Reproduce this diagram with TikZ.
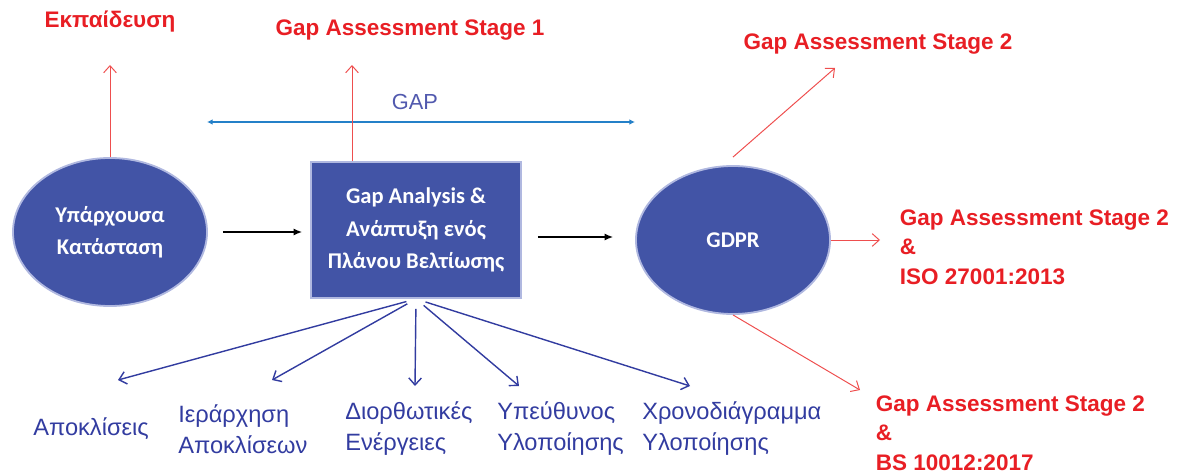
\documentclass[tikz,border=0pt]{standalone}
\usepackage{fontspec}
\setmainfont{Liberation Sans}
\newfontfamily\boxfont{Carlito}
\usetikzlibrary{arrows.meta,shapes.geometric,positioning,calc}
\definecolor{shapeblue}{RGB}{66,84,166}
\definecolor{rimcolor}{RGB}{176,184,224}
\definecolor{redtext}{RGB}{232,30,36}
\definecolor{redline}{RGB}{238,78,78}
\definecolor{labelblue}{RGB}{50,60,160}
\definecolor{gapblue}{RGB}{36,128,200}
\tikzstyle{shape node}=[fill=shapeblue, draw=rimcolor, line width=1.3pt, text=white, align=center, inner sep=0pt, font=\boxfont\bfseries\fontsize{16}{23}\selectfont]
\tikzstyle{state}=[shape node, ellipse, minimum width=4.85cm, minimum height=3.7cm]
\tikzstyle{plan}=[shape node, rectangle, minimum width=5.25cm, minimum height=3.4cm]
\tikzstyle{stage}=[text=redtext, align=left, font=\bfseries\fontsize{16}{21}\selectfont]
\tikzstyle{task}=[text=labelblue, align=left, anchor=west, inner sep=0pt, font=\fontsize{16.8}{22}\selectfont]
\tikzstyle{redarrow}=[-{Straight Barb[length=5pt,width=9pt]}, redline, line width=0.7pt]
\tikzstyle{fanarrow}=[-{Straight Barb[length=5pt,width=9pt]}, labelblue, line width=1pt]
\tikzstyle{flow}=[-{Latex[length=6pt,width=5pt]}, black, line width=1pt]

\begin{document}
\begin{tikzpicture}[x=0.025cm,y=-0.025cm]
\useasboundingbox (0,0) rectangle (1180,473);

    % main shapes
    \node[state] (current) at (110,232) {Υπάρχουσα\\Κατάσταση};
    \node[plan] (analysis) at (416,230) {Gap Analysis \&\\Ανάπτυξη ενός\\Πλάνου Βελτίωσης};
    \node[state] (gdpr) at (733,240) {GDPR};

    \draw[flow, shorten <=15pt*0.709, shorten >=8pt*0.709] (current.east) -- (analysis.west |- current.east);
    \draw[flow, shorten <=16pt*0.709, shorten >=22pt*0.709] (analysis.east |- 0,237) -- (gdpr.west |- 0,237);

    % gap line
    \coordinate (gapL) at (207,122);
    \coordinate (gapR) at (635,122);
    \draw[{Latex[length=4pt,width=4pt]}-{Latex[length=4pt,width=4pt]}, gapblue, line width=0.8pt] (gapL) -- (gapR);
    \node[text=labelblue!85!white, font=\fontsize{15.5}{18}\selectfont] (gap) at (415,102) {GAP};

    % stages
    \node[stage] (training) at (110,22) {Εκπαίδευση};
    \node[stage] (stage1) at (410,30) {Gap Assessment Stage 1};
    \node[stage] (stage2) at (878,44) {Gap Assessment Stage 2};
    \node[stage, anchor=west] (stage2iso) at (895,247) {Gap Assessment Stage 2\\\&\\ISO 27001:2013};
    \node[stage, anchor=west] (stage2bs) at (871,433) {Gap Assessment Stage 2\\\&\\BS 10012:2017};

    \coordinate (up0) at (110,65);
    \coordinate (up1) at (352,65);
    \coordinate (up2) at (835,68);
    \coordinate (up3) at (880,240);
    \coordinate (up4) at (860,390);
    \draw[redarrow] (current.north) -- (up0);
    \draw[redarrow] (analysis.north -| up1) -- (up1);
    \draw[redarrow] ($(gdpr.north)+(0,-8)$) -- (up2);
    \draw[redarrow] (gdpr.east) -- (up3);
    \draw[redarrow] (gdpr.south) -- (up4);

    % tasks under the plan
    \foreach \name/\x/\y/\txt in {1/33/118/{Αποκλίσεις},
                                  2/178/272/{Ιεράρχηση\\Αποκλίσεων},
                                  3/345/415/{Διορθωτικές\\Ενέργειες},
                                  4/497/519/{Υπεύθυνος\\Υλοποίησης},
                                  5/642/690/{Χρονοδιάγραμμα\\Υλοποίησης}}
    {
        \node[task] (T-\name) at (\x,429) {\txt};
        \coordinate (A-\name) at (\y,\ifnum\name>2 386\else 380\fi);
        \draw[fanarrow, shorten <=10pt*0.709] (analysis.south) -- (A-\name);
    }

\end{tikzpicture}
\end{document}
